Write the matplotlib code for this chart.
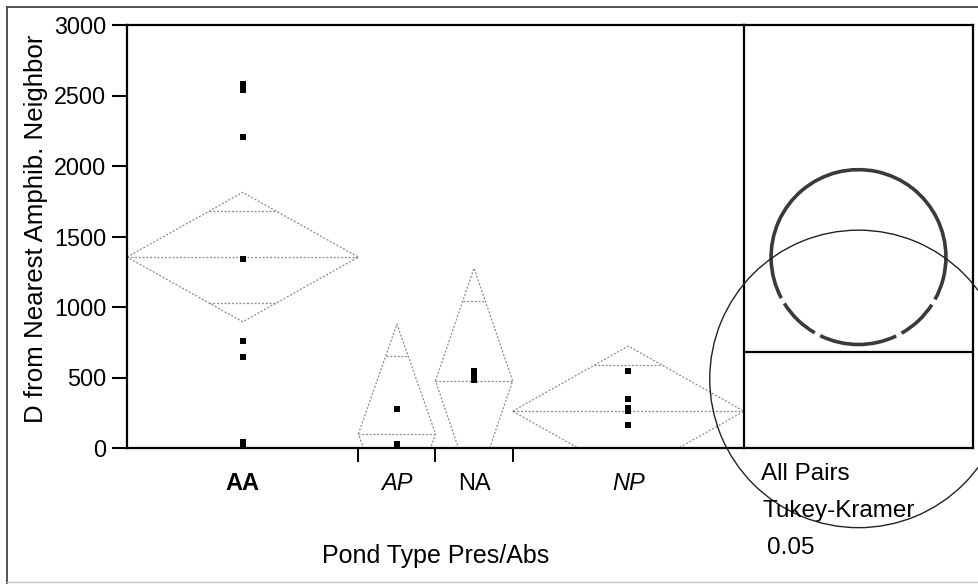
import numpy as np
import matplotlib
matplotlib.use('Agg')
import matplotlib.pyplot as plt
from matplotlib.patches import Arc
from matplotlib.lines import Line2D

plt.rcParams['font.family'] = ['Liberation Sans', 'DejaVu Sans']

# ---------------- data ----------------
categories = ['AA', 'AP', 'NA', 'NP']
cat_weights = [3, 1, 1, 3]            # relative group widths (JMP: proportional to n)
points_AA = [2581, 2539, 2209, 1338, 761, 643, 45, 27]
points_AP = [279, 25]
points_NA = [546, 514, 482]
points_NP = [548, 350, 284, 262, 165]
group_means = [1354, 100, 476, 261]
group_ci = [459, 779, 800, 462]       # 95% CI half-heights of means diamonds
circle_names = ['AA', 'NA']
circle_centers = [1354, 490]
circle_radii = [620, 1055]
ref_line = 683
yticks = [0, 500, 1000, 1500, 2000, 2500, 3000]
test_text = ['All Pairs', 'Tukey-Kramer', '0.05']

# ---------------- styles ----------------
cat_weight_style = ['bold', 'normal', 'normal', 'normal']
cat_italic_style = ['normal', 'italic', 'normal', 'italic']
diamond_color = '#8c8c8c'
diamond_ls = (0, (1.6, 1.4))

W, H = 979, 584
fig = plt.figure(figsize=(W / 100, H / 100), dpi=100)


def rect(l, t, r, b):
    return [l / W, 1 - b / H, (r - l) / W, (b - t) / H]


ax = fig.add_axes(rect(127, 25, 744, 448))
ax2 = fig.add_axes(rect(744, 25, 973, 448))

groups = [points_AA, points_AP, points_NA, points_NP]
bounds = np.concatenate([[0], np.cumsum(cat_weights)])
centers = (bounds[:-1] + bounds[1:]) / 2

ax.set_xlim(bounds[0], bounds[-1])
ax.set_ylim(0, 3000)

for i, pts in enumerate(groups):
    l, r, c = bounds[i], bounds[i + 1], centers[i]
    m, ci = group_means[i], group_ci[i]
    kw = dict(color=diamond_color, lw=0.9, ls=diamond_ls, zorder=2)
    ax.plot([l, c, r, c, l], [m, m + ci, m, m - ci, m], **kw)
    ax.plot([l, r], [m, m], **kw)
    off = ci / np.sqrt(2)
    hw = (r - l) / 2 * (1 - 1 / np.sqrt(2))
    for s in (1, -1):
        ax.plot([c - hw, c + hw], [m + s * off] * 2, **kw)
    ax.scatter([c] * len(pts), pts, marker='s', s=24, color='black',
               linewidths=0, zorder=5, clip_on=False)

# axes styling
for side in ['left', 'top', 'bottom']:
    ax.spines[side].set_linewidth(1.6)
ax.spines['right'].set_visible(False)
ax.set_yticks(yticks)
ax.set_yticklabels([str(v) for v in yticks])
ax.tick_params(axis='y', length=11, width=1.5, labelsize=16.8, pad=4, direction='out')
ax.set_xticks(bounds[1:-1])
ax.set_xticklabels([])
ax.tick_params(axis='x', length=10, width=1.4, direction='out')

# category labels
for i, name in enumerate(categories):
    ax.text(centers[i], (448 - 490) / 423, name, transform=ax.get_xaxis_transform(),
            ha='center', va='baseline', fontsize=17,
            fontweight=cat_weight_style[i], fontstyle=cat_italic_style[i])

# comparison circles panel
xr = 229 / 423 * 3000
ax2.set_xlim(-xr / 2, xr / 2)
ax2.set_ylim(0, 3000)
ax2.set_xticks([])
ax2.set_yticks([])
for side in ax2.spines.values():
    side.set_linewidth(1.6)
ax2.axhline(ref_line, color='black', lw=1.6)

# AA circle (selected, thick, with small gaps)
cy, rr = circle_centers[0], circle_radii[0]
for t1, t2 in [(0, 208), (212, 240), (244, 295.5), (299.5, 327), (331, 360)]:
    ax2.add_patch(Arc((0, cy), 2 * rr, 2 * rr, theta1=t1, theta2=t2,
                      color='#3a3a3a', lw=2.6, clip_on=False, zorder=4))
# NA circle (thin, large)
cy, rr = circle_centers[1], circle_radii[1]
ax2.add_patch(Arc((0, cy), 2 * rr, 2 * rr, theta1=0, theta2=360,
                  color='#222222', lw=1.0, clip_on=False, zorder=4))

# texts
fig.text(761 / W, 1 - 480 / H, test_text[0], ha='left', va='baseline', fontsize=17.5)
fig.text(763 / W, 1 - 516.7 / H, test_text[1], ha='left', va='baseline', fontsize=17.5)
fig.text(767 / W, 1 - 554 / H, test_text[2], ha='left', va='baseline', fontsize=17.5)

fig.text(36 / W, 1 - 229 / H, 'D from Nearest Amphib. Neighbor', rotation=90,
         ha='center', va='center', fontsize=18.6)
fig.text(435.5 / W, 1 - 563.3 / H, 'Pond Type Pres/Abs', ha='center', va='baseline',
         fontsize=18)

# outer frame lines
fig.add_artist(Line2D([7 / W, 1], [1 - 7 / H] * 2, transform=fig.transFigure,
                      color='#444444', lw=1.3))
fig.add_artist(Line2D([7 / W] * 2, [1 - 7 / H, 0], transform=fig.transFigure,
                      color='#444444', lw=1.3))
fig.add_artist(Line2D([7 / W, 1], [1 - 582 / H] * 2, transform=fig.transFigure,
                      color='#c8c8c8', lw=1.0))

fig.savefig('out.png', dpi=100)
